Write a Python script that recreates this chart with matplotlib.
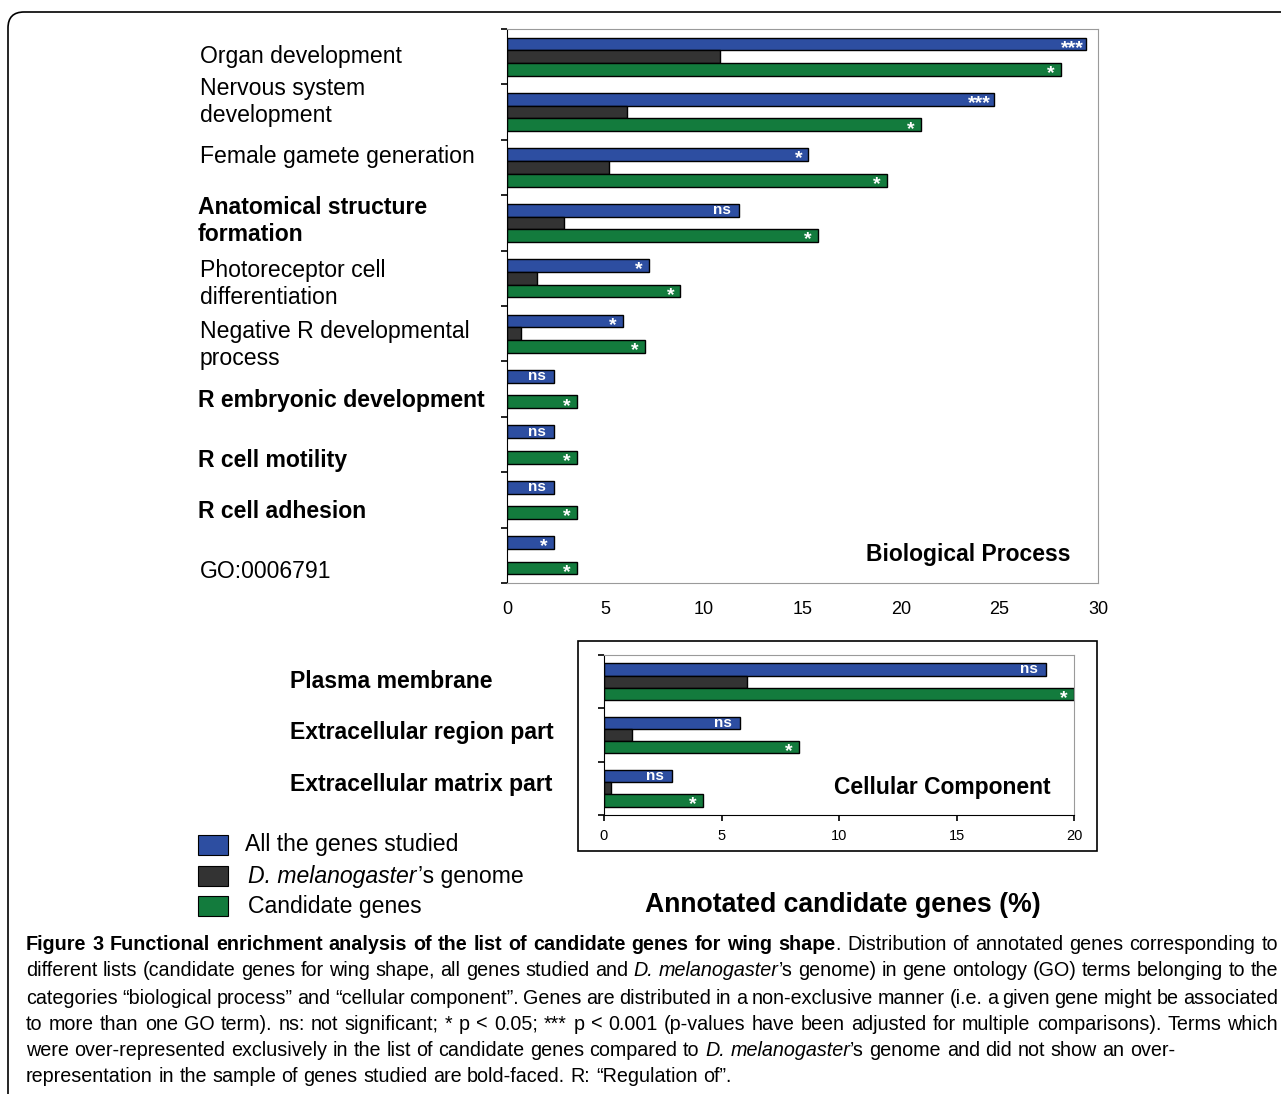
import matplotlib
matplotlib.use('Agg')
import matplotlib.pyplot as plt
from matplotlib.patches import FancyBboxPatch, Rectangle
from matplotlib.transforms import IdentityTransform
import numpy as np

# ---- data ----
bp_terms = ['Organ development', 'Nervous system\ndevelopment', 'Female gamete generation',
            'Anatomical structure\nformation', 'Photoreceptor cell\ndifferentiation',
            'Negative R developmental\nprocess', 'R embryonic development', 'R cell motility',
            'R cell adhesion', 'GO:0006791']
bp_bold = [False, False, False, True, False, False, True, True, True, False]
bp_all = [29.4, 24.7, 15.3, 11.8, 7.2, 5.9, 2.4, 2.4, 2.4, 2.4]
bp_genome = [10.8, 6.1, 5.2, 2.9, 1.5, 0.7, 0.0, 0.0, 0.0, 0.0]
bp_cand = [28.1, 21.0, 19.3, 15.8, 8.8, 7.0, 3.55, 3.55, 3.55, 3.55]
bp_sig_all = ['***', '***', '*', 'ns', '*', '*', 'ns', 'ns', 'ns', '*']
bp_sig_cand = ['*', '*', '*', '*', '*', '*', '*', '*', '*', '*']

cc_terms = ['Plasma membrane', 'Extracellular region part', 'Extracellular matrix part']
cc_all = [18.8, 5.8, 2.9]
cc_genome = [6.1, 1.2, 0.3]
cc_cand = [20.0, 8.3, 4.2]
cc_sig_all = ['ns', 'ns', 'ns']
cc_sig_cand = ['*', '*', '*']

series_names = ['All the genes studied', "D. melanogaster's genome", 'Candidate genes']
c_all, c_gen, c_cand = '#2d4ea1', '#333333', '#137b3d'

caption = [
    [("Figure 3 Functional enrichment analysis of the list of candidate genes for wing shape", 'bold'),
     (". Distribution of annotated genes corresponding to", 'normal')],
    [("different lists (candidate genes for wing shape, all genes studied and ", 'normal'),
     ("D. melanogaster", 'italic'),
     ("\u2019s genome) in gene ontology (GO) terms belonging to the", 'normal')],
    [("categories \u201cbiological process\u201d and \u201ccellular component\u201d. Genes are distributed in a "
      "non-exclusive manner (i.e. a given gene might be associated", 'normal')],
    [("to more than one GO term). ns: not significant; * p < 0.05; *** p < 0.001 (p-values have been "
      "adjusted for multiple comparisons). Terms which", 'normal')],
    [("were over-represented exclusively in the list of candidate genes compared to ", 'normal'),
     ("D. melanogaster", 'italic'),
     ("\u2019s genome and did not show an over-", 'normal')],
    [("representation in the sample of genes studied are bold-faced. R: \u201cRegulation of\u201d.", 'normal')],
]

# ---- layout ----
W, H = 1281, 1094
plt.rcParams['font.family'] = ['Liberation Sans', 'DejaVu Sans']
fig = plt.figure(figsize=(W / 100, H / 100), dpi=100)
pix = IdentityTransform()
lab_fs = 16.6


def fx(px):
    return px / W


def fy(py):
    return 1 - py / H


def add_sig(ax, x, y, s, fs_star, fs_ns):
    if s == 'ns':
        ax.annotate('ns', (x, y), xytext=(-6, 0), textcoords='offset points', ha='right',
                    va='center', color='white', fontsize=fs_ns, fontweight='bold')
    else:
        off = -2 if s == '***' else -4.5
        ax.annotate(s, (x, y), xytext=(off, -fs_star * 0.45), textcoords='offset points',
                    ha='right', va='baseline', color='white', fontsize=fs_star, fontweight='bold')


def draw_panel(ax, allv, genv, candv, sig_a, sig_c, xmax, fs_star, fs_ns):
    n = len(allv)
    y = np.arange(n)
    h = 0.23
    gen = np.array(genv)
    ax.barh(y - h, allv, height=h, color=c_all, edgecolor='black', linewidth=1)
    ax.barh(y, gen, height=h, color=c_gen, edgecolor='black',
            linewidth=np.where(gen > 0, 1, 0))
    ax.barh(y + h, candv, height=h, color=c_cand, edgecolor='black', linewidth=1)
    for yi, v, s in zip(y, allv, sig_a):
        add_sig(ax, v, yi - h, s, fs_star, fs_ns)
    for yi, v, s in zip(y, candv, sig_c):
        add_sig(ax, v, yi + h, s, fs_star, fs_ns)
    ax.set_xlim(0, xmax)
    ax.set_ylim(n - 0.5, -0.5)
    ax.set_yticks(np.arange(n + 1) - 0.5)
    ax.set_yticklabels([])
    for sp in ['top', 'right', 'bottom']:
        ax.spines[sp].set_color('#9a9a9a')
    ax.spines['left'].set_color('black')
    ax.tick_params(axis='y', direction='out', length=4, width=1.2)


# biological process panel
ax1 = fig.add_axes([fx(507), fy(583), fx(1098) - fx(507), fy(29) - fy(583)])
draw_panel(ax1, bp_all, bp_genome, bp_cand, bp_sig_all, bp_sig_cand, 30, 14, 11)
ax1.set_xticks([0, 5, 10, 15, 20, 25, 30])
ax1.tick_params(axis='x', length=0, pad=13, labelsize=13)
ax1.text(0.954, 0.052, 'Biological Process', transform=ax1.transAxes, ha='right', va='center',
         fontsize=16.5, fontweight='bold')

bp_label_y = [56, 102, 157, 221, 284, 345, 400, 460, 511, 571]
for term, b, py in zip(bp_terms, bp_bold, bp_label_y):
    fig.text(fx(198 if b else 200), fy(py), term, ha='left', va='center', fontsize=lab_fs,
             fontweight='bold' if b else 'normal', linespacing=1.25)

# cellular component panel
ax2 = fig.add_axes([fx(604), fy(815), fx(1074) - fx(604), fy(655) - fy(815)])
draw_panel(ax2, cc_all, cc_genome, cc_cand, cc_sig_all, cc_sig_cand, 20, 14, 11)
ax2.spines['bottom'].set_color('black')
ax2.set_xticks([0, 5, 10, 15, 20])
ax2.tick_params(axis='x', direction='out', length=4, width=1.2, pad=6, labelsize=10.5)
ax2.text(0.951, 0.169, 'Cellular Component', transform=ax2.transAxes, ha='right', va='center',
         fontsize=16.5, fontweight='bold')
fig.add_artist(Rectangle((578, H - 851), 1097 - 578, 851 - 641, transform=pix,
                         fill=False, edgecolor='black', linewidth=1.2))

cc_label_y = [682, 733, 784]
for term, py in zip(cc_terms, cc_label_y):
    fig.text(fx(290), fy(py), term, ha='left', va='center', fontsize=lab_fs, fontweight='bold')

# legend
renderer = fig.canvas.get_renderer()
leg_y = [845, 876, 906]
for col, py in zip([c_all, c_gen, c_cand], leg_y):
    fig.add_artist(Rectangle((198, H - py - 10), 30, 20, transform=pix,
                             facecolor=col, edgecolor='black', linewidth=0.8))
fig.text(fx(245), fy(leg_y[0]), series_names[0], va='center', fontsize=lab_fs)
t_it = fig.text(fx(248), fy(leg_y[1]), series_names[1].split("'")[0], va='center',
                fontsize=lab_fs, style='italic')
bb = t_it.get_window_extent(renderer)
fig.text(bb.x1 / W + 0.001, fy(leg_y[1]), "\u2019" + series_names[1].split("'")[1],
         va='center', fontsize=lab_fs)
fig.text(fx(248), fy(leg_y[2]), series_names[2], va='center', fontsize=lab_fs)

fig.text(fx(843), fy(905), 'Annotated candidate genes (%)', ha='center', va='center',
         fontsize=19.2, fontweight='bold')

# rounded frame
fig.add_artist(FancyBboxPatch((8, -40), 1320, H - 12 + 40, transform=pix,
                              boxstyle='round,pad=0,rounding_size=16', fill=False,
                              edgecolor='black', linewidth=1.2))

# caption, drawn word by word so lines can be justified
cap_font = ['Liberation Sans Narrow', 'Liberation Sans', 'DejaVu Sans']
cap_fs = 14.2
cap_x0, cap_x1 = 26, 1278
cap_y = [945, 971, 998, 1024, 1051, 1077]
justify = [True, True, True, True, False, False]


def cap_props(style):
    return dict(fontsize=cap_fs, family=cap_font,
                fontweight='bold' if style == 'bold' else 'normal',
                style='italic' if style == 'italic' else 'normal')


def measure(s, style):
    t = fig.text(0, 0, s, **cap_props(style))
    w = t.get_window_extent(renderer).width
    t.remove()
    return w


space_w = measure('x x', 'normal') - measure('xx', 'normal')
for runs, py, just in zip(caption, cap_y, justify):
    tokens = []
    pending = False
    for text, style in runs:
        parts = text.split(' ')
        for k, p in enumerate(parts):
            if k > 0:
                pending = True
            if p == '':
                continue
            tokens.append([p, style, pending and len(tokens) > 0])
            pending = False
    widths = [measure(p, st) for p, st, g in tokens]
    n_gaps = sum(1 for tk in tokens if tk[2])
    natural = sum(widths) + n_gaps * space_w
    sw = space_w
    if just and n_gaps:
        sw = space_w + (cap_x1 - cap_x0 - natural) / n_gaps
    x = cap_x0
    for (p, st, g), w in zip(tokens, widths):
        if g:
            x += sw
        fig.text(x, H - py, p, transform=pix, va='center', ha='left', **cap_props(st))
        x += w

fig.savefig('out.png', dpi=100)
